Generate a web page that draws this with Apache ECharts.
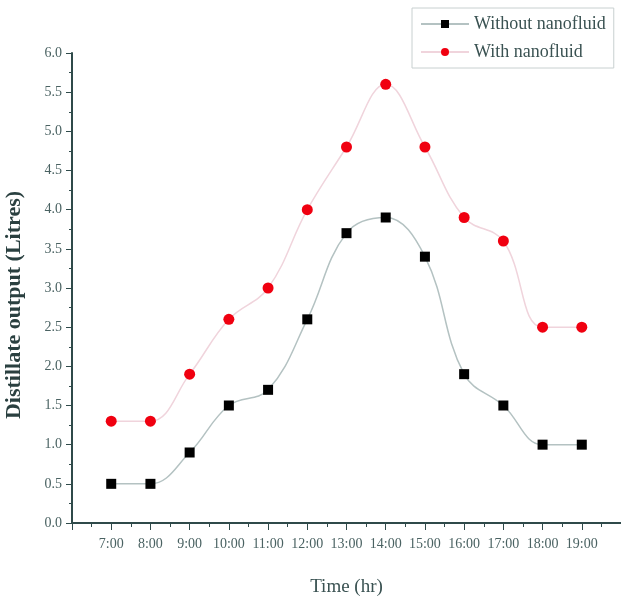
<!DOCTYPE html>
<html><head><meta charset="utf-8">
<script src="https://cdn.jsdelivr.net/npm/echarts@6/dist/echarts.min.js"></script>
<style>html,body{margin:0;padding:0;background:#fff}#c{width:621px;height:597px}</style>
</head><body><div id="c"></div>
<script>
const hours = [7, 8, 9, 10, 11, 12, 13, 14, 15, 16, 17, 18, 19];
const xTickLabels = ['7:00','8:00','9:00','10:00','11:00','12:00','13:00','14:00','15:00','16:00','17:00','18:00','19:00'];
const withoutNano = [0.5, 0.5, 0.9, 1.5, 1.7, 2.6, 3.7, 3.9, 3.4, 1.9, 1.5, 1.0, 1.0];
const withNano = [1.3, 1.3, 1.9, 2.6, 3.0, 4.0, 4.8, 5.6, 4.8, 3.9, 3.6, 2.5, 2.5];
const seriesNames = ['Without nanofluid', 'With nanofluid'];

const font = '"Liberation Serif", "DejaVu Serif", serif';
const axisCol = '#2f4a4a';
const txtCol = '#4a6262';

const chart = echarts.init(document.getElementById('c'), null, {renderer: 'canvas'});
chart.setOption({
  backgroundColor: '#fff',
  animation: false,
  grid: {left: 72, top: 53, right: 0, bottom: 74, containLabel: false, outerBoundsMode: 'none'},
  legend: {
    orient: 'vertical', left: 412, top: 8,
    padding: [7, 8, 7, 8], itemGap: 10,
    itemWidth: 48, itemHeight: 10,
    borderColor: '#c8d0d0', borderWidth: 1,
    textStyle: {fontFamily: font, fontSize: 18, color: '#3a5252'},
    data: seriesNames
  },
  xAxis: {
    type: 'value', min: 6, max: 20, interval: 1,
    name: 'Time (hr)', nameLocation: 'middle', nameGap: 55,
    nameTextStyle: {fontFamily: font, fontSize: 19, color: '#3a5252'},
    axisLine: {lineStyle: {color: axisCol, width: 2}},
    axisTick: {inside: false, length: 7, lineStyle: {color: axisCol, width: 1}},
    minorTick: {show: true, splitNumber: 2, length: 4, lineStyle: {color: axisCol, width: 1}},
    splitLine: {show: false},
    axisLabel: {
      fontFamily: font, fontSize: 14, color: txtCol, margin: 14,
      formatter: v => { const i = hours.indexOf(v); return i >= 0 ? xTickLabels[i] : ''; }
    }
  },
  yAxis: {
    type: 'value', min: 0, max: 6, interval: 0.5,
    name: 'Distillate output (Litres)', nameLocation: 'middle', nameGap: 47,
    nameTextStyle: {fontFamily: font, fontSize: 22, fontWeight: 'bold', color: '#2a4040', padding: [0, 34, 0, 0]},
    axisLine: {show: true, lineStyle: {color: axisCol, width: 2}},
    axisTick: {show: true, length: 6, lineStyle: {color: axisCol, width: 1}},
    minorTick: {show: true, splitNumber: 2, length: 3, lineStyle: {color: axisCol, width: 1}},
    splitLine: {show: false},
    axisLabel: {fontFamily: font, fontSize: 14, color: txtCol, margin: 10, formatter: v => v.toFixed(1)}
  },
  series: [
    {
      name: seriesNames[0], type: 'line', smooth: 0.4,
      data: hours.map((h, i) => [h, withoutNano[i]]),
      symbol: 'rect', symbolSize: 10,
      itemStyle: {color: '#000'},
      lineStyle: {color: '#b4c2c2', width: 1.5}
    },
    {
      name: seriesNames[1], type: 'line', smooth: 0.4,
      data: hours.map((h, i) => [h, withNano[i]]),
      symbol: 'circle', symbolSize: 11,
      itemStyle: {color: '#f00010'},
      lineStyle: {color: '#f0d4dc', width: 1.5}
    }
  ]
});
</script></body></html>
